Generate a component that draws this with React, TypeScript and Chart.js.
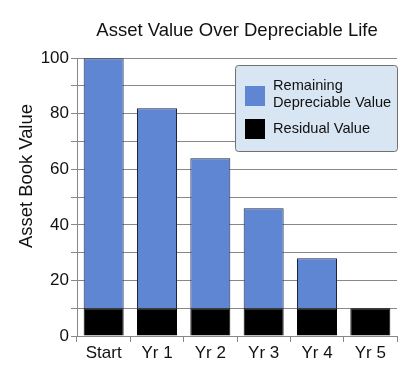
import React, { useEffect, useRef } from "react";
import { Chart, registerables } from "chart.js";

Chart.register(...registerables);

const categories = ["Start", "Yr 1", "Yr 2", "Yr 3", "Yr 4", "Yr 5"];
const residualValues = [10, 10, 10, 10, 10, 10];
const remainingValues = [90, 72, 54, 36, 18, 0];
const seriesNames = ["Residual Value", "Remaining Depreciable Value"];
const legendLines = [["Remaining", "Depreciable Value"], ["Residual Value"]];
const yAxisTitle = "Asset Book Value";

const BLUE = "#5f86d2";
const FONT = "'Liberation Sans', Arial, sans-serif";

const legendPlugin = {
  id: "boxLegend",
  afterDraw(chart: any) {
    const ctx = chart.ctx;
    const x = 235, y = 65, w = 162, h = 86;
    ctx.save();
    ctx.fillStyle = "#d8e5f2";
    ctx.strokeStyle = "#707070";
    ctx.lineWidth = 1;
    ctx.beginPath();
    (ctx as any).roundRect(x + 0.5, y + 0.5, w, h, 3);
    ctx.fill();
    ctx.stroke();
    ctx.fillStyle = BLUE;
    ctx.fillRect(245, 86, 20, 20);
    ctx.fillStyle = "#000";
    ctx.fillRect(245, 119, 20, 20);
    ctx.font = "14.6px " + FONT;
    ctx.textBaseline = "middle";
    ctx.fillStyle = "#111";
    ctx.fillText(legendLines[0][0], 273, 86);
    ctx.fillText(legendLines[0][1], 273, 103);
    ctx.fillText(legendLines[1][0], 273, 129);
    // y-axis title
    ctx.translate(32, 176);
    ctx.rotate(-Math.PI / 2);
    ctx.font = "18.4px " + FONT;
    ctx.textAlign = "center";
    ctx.textBaseline = "alphabetic";
    ctx.fillText(yAxisTitle, 0, 0);
    ctx.restore();
  },
};

export default function App() {
  const ref = useRef<HTMLCanvasElement>(null);
  useEffect(() => {
    if (!ref.current) return;
    const chart = new Chart(ref.current, {
      type: "bar",
      data: {
        labels: categories,
        datasets: [
          {
            label: seriesNames[0],
            data: residualValues,
            backgroundColor: "#000",
            borderColor: "#000",
            borderWidth: 1,
          },
          {
            label: seriesNames[1],
            data: remainingValues,
            backgroundColor: BLUE,
            borderColor: "#1d2440",
            borderWidth: 1,
          },
        ],
      },
      plugins: [legendPlugin],
      options: {
        animation: false,
        responsive: false,
        layout: { padding: { left: 0, right: 3, top: 0, bottom: 0 } },
        datasets: { bar: { categoryPercentage: 1, barPercentage: 0.75 } },
        plugins: {
          legend: { display: false },
          tooltip: { enabled: false },
          title: {
            display: true,
            text: "Asset Value Over Depreciable Life",
            fullSize: false,
            color: "#111",
            font: { family: FONT, size: 18.5, weight: "normal" },
            padding: { top: 20, bottom: 16 },
          },
        },
        scales: {
          x: {
            stacked: true,
            grid: {
              offset: true,
              drawOnChartArea: false,
              drawTicks: true,
              tickLength: 6,
              color: "#888",
            },
            border: { color: "#888", width: 1 },
            ticks: {
              color: "#111",
              font: { family: FONT, size: 17 },
              padding: 1,
            },
            afterFit: (s: any) => {
              s.height = 34;
            },
          },
          y: {
            stacked: true,
            min: 0,
            max: 100,
            grid: { color: "#888", tickLength: 6 },
            border: { color: "#888", width: 1 },
            ticks: {
              stepSize: 10,
              color: "#111",
              font: { family: FONT, size: 17 },
              padding: 2,
              callback: (v: any) => (Number(v) % 20 === 0 ? String(v) : ""),
            },
            afterFit: (s: any) => {
              s.width = 77;
            },
          },
        },
      },
    });
    return () => chart.destroy();
  }, []);
  return (
    <div style={{ position: "fixed", left: 0, top: 0, width: 400, height: 370, background: "#fff" }}>
      <canvas ref={ref} width={400} height={370} style={{ width: 400, height: 370 }} />
    </div>
  );
}
